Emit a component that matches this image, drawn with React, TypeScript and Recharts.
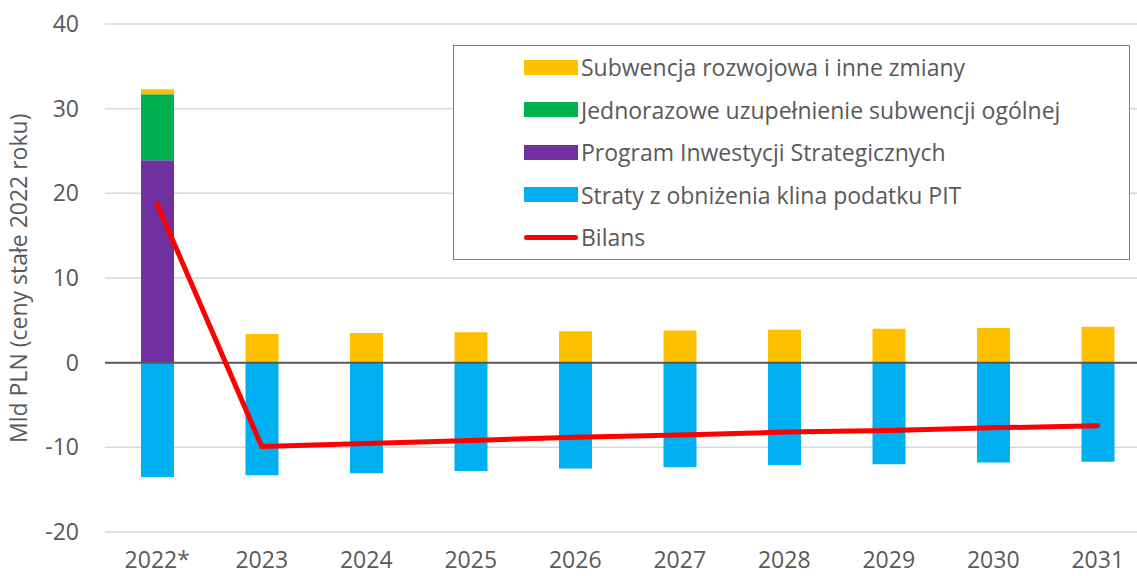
import { ComposedChart, Bar, Line, XAxis, YAxis, CartesianGrid, ReferenceLine } from 'recharts';

const years = ['2022*', '2023', '2024', '2025', '2026', '2027', '2028', '2029', '2030', '2031'];
const subwencja = [0.6, 3.4, 3.5, 3.6, 3.7, 3.8, 3.9, 4.0, 4.1, 4.25];
const jednorazowe = [7.8, 0, 0, 0, 0, 0, 0, 0, 0, 0];
const program = [23.9, 0, 0, 0, 0, 0, 0, 0, 0, 0];
const straty = [-13.5, -13.3, -13.05, -12.8, -12.5, -12.35, -12.1, -12.0, -11.8, -11.7];
const bilans = [18.7, -9.9, -9.55, -9.2, -8.8, -8.55, -8.2, -8.0, -7.7, -7.45];
const yTicks = [-20, -10, 0, 10, 20, 30, 40];

const data = years.map((year, i) => ({
  year,
  subwencja: subwencja[i],
  jednorazowe: jednorazowe[i],
  program: program[i],
  straty: straty[i],
  bilans: bilans[i],
}));

const legendItems = [
  { label: 'Subwencja rozwojowa i inne zmiany', color: '#FFC000', line: false },
  { label: 'Jednorazowe uzupełnienie subwencji ogólnej', color: '#00B050', line: false },
  { label: 'Program Inwestycji Strategicznych', color: '#7030A0', line: false },
  { label: 'Straty z obniżenia klina podatku PIT', color: '#00B0F0', line: false },
  { label: 'Bilans', color: '#FF0000', line: true },
];

const font = '"Open Sans", sans-serif';
const grey = '#595959';

function ChartLegend() {
  return (
    <div
      style={{
        position: 'absolute',
        left: 453,
        top: 45,
        width: 677,
        height: 215,
        border: '1.5px solid #7f7f7f',
        background: '#fff',
        boxSizing: 'border-box',
        fontFamily: font,
        fontSize: 23,
        color: grey,
      }}
    >
      {legendItems.map((it) => (
        <div key={it.label} style={{ display: 'flex', alignItems: 'center', height: 42.5, paddingLeft: 70 }}>
          <div
            style={{
              width: 54,
              height: it.line ? 5 : 15,
              borderRadius: it.line ? 3 : 0,
              background: it.color,
              marginRight: 3,
            }}
          />
          <span style={{ whiteSpace: 'nowrap' }}>{it.label}</span>
        </div>
      ))}
    </div>
  );
}

export default function App() {
  return (
    <div style={{ position: 'fixed', left: 0, top: 0, width: 1137, height: 576, overflow: 'hidden', background: '#fff' }}>
      <ComposedChart
        width={1150}
        height={576}
        data={data}
        stackOffset="sign"
        margin={{ top: 24, right: 0, bottom: 0, left: 0 }}
      >
        <CartesianGrid vertical={false} stroke="#d9d9d9" strokeWidth={1.5} />
        <XAxis
          dataKey="year"
          axisLine={false}
          tickLine={false}
          height={44}
          tickMargin={14}
          tick={{ fill: grey, fontSize: 23, fontFamily: font }}
          interval={0}
        />
        <YAxis
          domain={[-20, 40]}
          ticks={yTicks}
          width={105}
          axisLine={false}
          tickLine={false}
          tickMargin={20}
          tick={{ fill: grey, fontSize: 23, fontFamily: font }}
          label={{
            value: 'Mld PLN (ceny stałe 2022 roku)',
            angle: -90,
            position: 'insideLeft',
            dx: 14,
            dy: 165,
            style: { fill: grey, fontSize: 23, fontFamily: font },
          }}
        />
        <Bar dataKey="straty" stackId="a" fill="#00B0F0" barSize={33} isAnimationActive={false} />
        <Bar dataKey="program" stackId="a" fill="#7030A0" barSize={33} isAnimationActive={false} />
        <Bar dataKey="jednorazowe" stackId="a" fill="#00B050" barSize={33} isAnimationActive={false} />
        <Bar dataKey="subwencja" stackId="a" fill="#FFC000" barSize={33} isAnimationActive={false} />
        <ReferenceLine y={0} stroke={grey} strokeWidth={2} />
        <Line
          dataKey="bilans"
          stroke="#FF0000"
          strokeWidth={5}
          strokeLinecap="round"
          strokeLinejoin="round"
          dot={false}
          isAnimationActive={false}
        />
      </ComposedChart>
      <ChartLegend />
    </div>
  );
}
